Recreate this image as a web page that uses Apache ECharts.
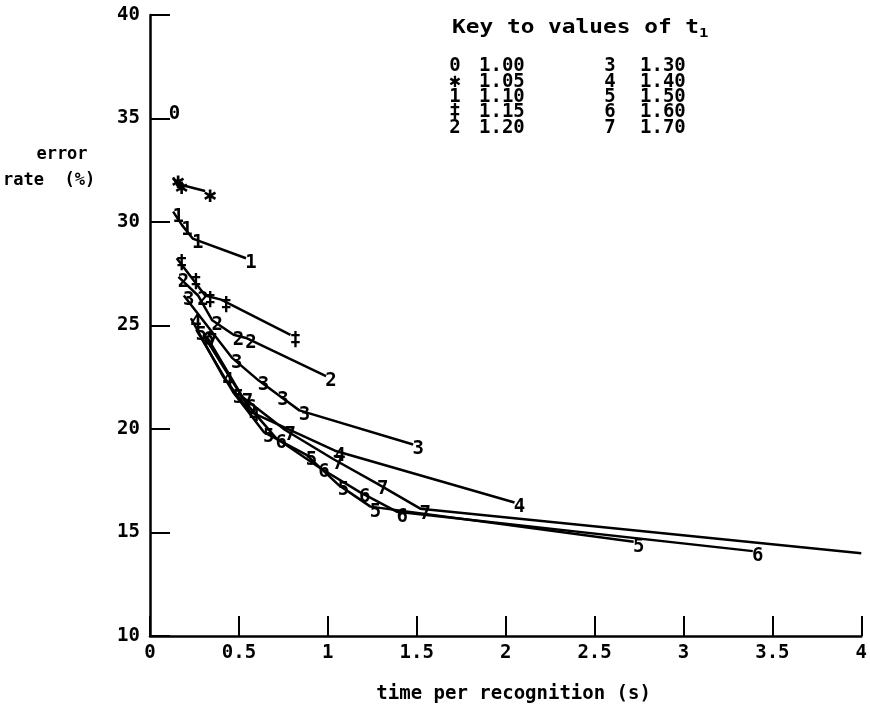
<!DOCTYPE html>
<html>
<head>
<meta charset="utf-8">
<script src="https://cdn.jsdelivr.net/npm/echarts@6/dist/echarts.min.js"></script>
<style>
  html, body { margin: 0; padding: 0; background: #fff; }
  #chart { width: 870px; height: 709px; }
</style>
</head>
<body>
<div id="chart"></div>
<script>
// Plot symbols used for each threshold t1, and the t1 values they stand for
const keySymbols = ['0', '✱', '1', '‡', '2', '3', '4', '5', '6', '7'];
const t1Values = ['1.00', '1.05', '1.10', '1.15', '1.20', '1.30', '1.40', '1.50', '1.60', '1.70'];

// [time per recognition (s), error rate (%)] for each t1
const run100 = [[0.11, 35.45]];
const run105 = [[0.13, 32.15], [0.15, 31.85], [0.31, 31.5]];
const run110 = [[0.13, 30.5], [0.18, 29.85], [0.24, 29.2], [0.54, 28.25]];
const run115 = [[0.15, 28.25], [0.23, 27.35], [0.31, 26.45], [0.40, 26.25], [0.79, 24.55]];
const run120 = [[0.16, 27.35], [0.27, 26.45], [0.35, 25.25], [0.47, 24.55], [0.54, 24.4], [0.99, 22.55]];
const run130 = [[0.19, 26.45], [0.46, 23.45], [0.61, 22.35], [0.72, 21.65], [0.84, 20.9], [1.48, 19.25]];
const run140 = [[0.23, 25.35], [0.41, 22.55], [0.56, 20.85], [1.04, 18.95], [2.05, 16.45]];
const run150 = [[0.26, 24.8], [0.47, 21.75], [0.64, 19.85], [0.88, 18.75], [1.06, 17.3], [1.24, 16.25], [2.72, 14.55]];
const run160 = [[0.30, 24.55], [0.54, 21.25], [0.71, 19.55], [0.95, 18.15], [1.18, 16.95], [1.39, 16.0], [3.39, 14.1]];
const run170 = [[0.32, 24.45], [0.52, 21.55], [0.76, 19.95], [1.03, 18.55], [1.28, 17.35], [1.52, 16.15]];
// the 1.70 run continues to the right edge of the plot
const run170Tail = [4.0, 14.0];

const xTicks = { min: 0, max: 4, interval: 0.5 };
const yTicks = { min: 10, max: 40, interval: 5 };

const runs = [run100, run105, run110, run115, run120, run130, run140, run150, run160, run170];

const FONT = '"DejaVu Sans Mono", monospace';
const INK = '#000';

const series = runs.map((pts, i) => {
  const data = pts.map(p => ({ value: p }));
  if (i === runs.length - 1) {
    data.push({ value: run170Tail, label: { show: false } });
  }
  const isStar = keySymbols[i] === '✱';
  return {
    name: t1Values[i],
    type: 'line',
    data: data,
    symbol: 'circle',
    symbolSize: 2,
    showSymbol: true,
    showAllSymbol: true,
    itemStyle: { color: 'rgba(0,0,0,0)', borderWidth: 0 },
    lineStyle: { color: INK, width: 2.5 },
    label: {
      show: true,
      position: 'inside',
      offset: [5, 5],
      formatter: () => keySymbols[i],
      color: INK,
      fontFamily: FONT,
      fontWeight: 'bold',
      fontSize: isStar ? 22 : 19
    },
    emphasis: { disabled: true },
    z: 2
  };
});

// Key to the plot symbols, laid out in two columns
const keyText = (text, x, y, align) => ({
  type: 'text', x: x, y: y, scaleY: 1.05,
  style: { text: text, fill: INK, align: align, verticalAlign: 'middle',
           font: 'bold 19px ' + FONT }
});
const keyChildren = [];
keyChildren.push({
  type: 'text',
  x: 452, y: 28, scaleX: 1.2,
  style: {
    text: '{t|Key to values of t}{s|1}',
    fill: INK,
    verticalAlign: 'middle',
    rich: {
      t: { fontFamily: FONT, fontWeight: 'bold', fontSize: 19, fill: INK },
      s: { fontFamily: FONT, fontWeight: 'bold', fontSize: 13, fill: INK, padding: [12, 0, 0, 0] }
    }
  }
});
keySymbols.forEach((sym, i) => {
  const col = Math.floor(i / 5);
  const row = i % 5;
  const y = 66 + row * 15.4;
  keyChildren.push(keyText(sym, col === 0 ? 455 : 610, y, 'center'));
  keyChildren.push(keyText(t1Values[i], col === 0 ? 479 : 640, y, 'left'));
});

const axisFont = { color: INK, fontFamily: FONT, fontWeight: 'bold', fontSize: 19 };

const chart = echarts.init(document.getElementById('chart'));
chart.setOption({
  animation: false,
  backgroundColor: '#fff',
  grid: { left: 150, right: 4, top: 15, bottom: 69, containLabel: false },
  xAxis: {
    type: 'value',
    min: xTicks.min, max: xTicks.max, interval: xTicks.interval,
    name: 'time per recognition (s)',
    nameLocation: 'middle',
    nameGap: 49,
    nameTextStyle: Object.assign({ padding: [0, 0, 0, 16] }, axisFont),
    axisLine: { show: true, onZero: false, lineStyle: { color: INK, width: 2.5 } },
    axisTick: { show: true, inside: true, length: 20, lineStyle: { color: INK, width: 2 } },
    axisLabel: Object.assign({ margin: 8 }, axisFont),
    splitLine: { show: false }
  },
  yAxis: {
    type: 'value',
    min: yTicks.min, max: yTicks.max, interval: yTicks.interval,
    axisLine: { show: true, onZero: false, lineStyle: { color: INK, width: 2.5 } },
    axisTick: { show: true, inside: true, length: 20, lineStyle: { color: INK, width: 2 } },
    axisLabel: Object.assign({ margin: 10 }, axisFont),
    splitLine: { show: false }
  },
  graphic: [
    {
      type: 'text', x: 62, y: 155,
      style: { text: 'error', fill: INK, align: 'center', verticalAlign: 'middle',
               font: 'bold 17px ' + FONT }
    },
    {
      type: 'text', x: 3, y: 181,
      style: { text: 'rate  (%)', fill: INK, align: 'left', verticalAlign: 'middle',
               font: 'bold 17px ' + FONT }
    },
    { type: 'group', children: keyChildren }
  ],
  series: series
});
</script>
</body>
</html>
